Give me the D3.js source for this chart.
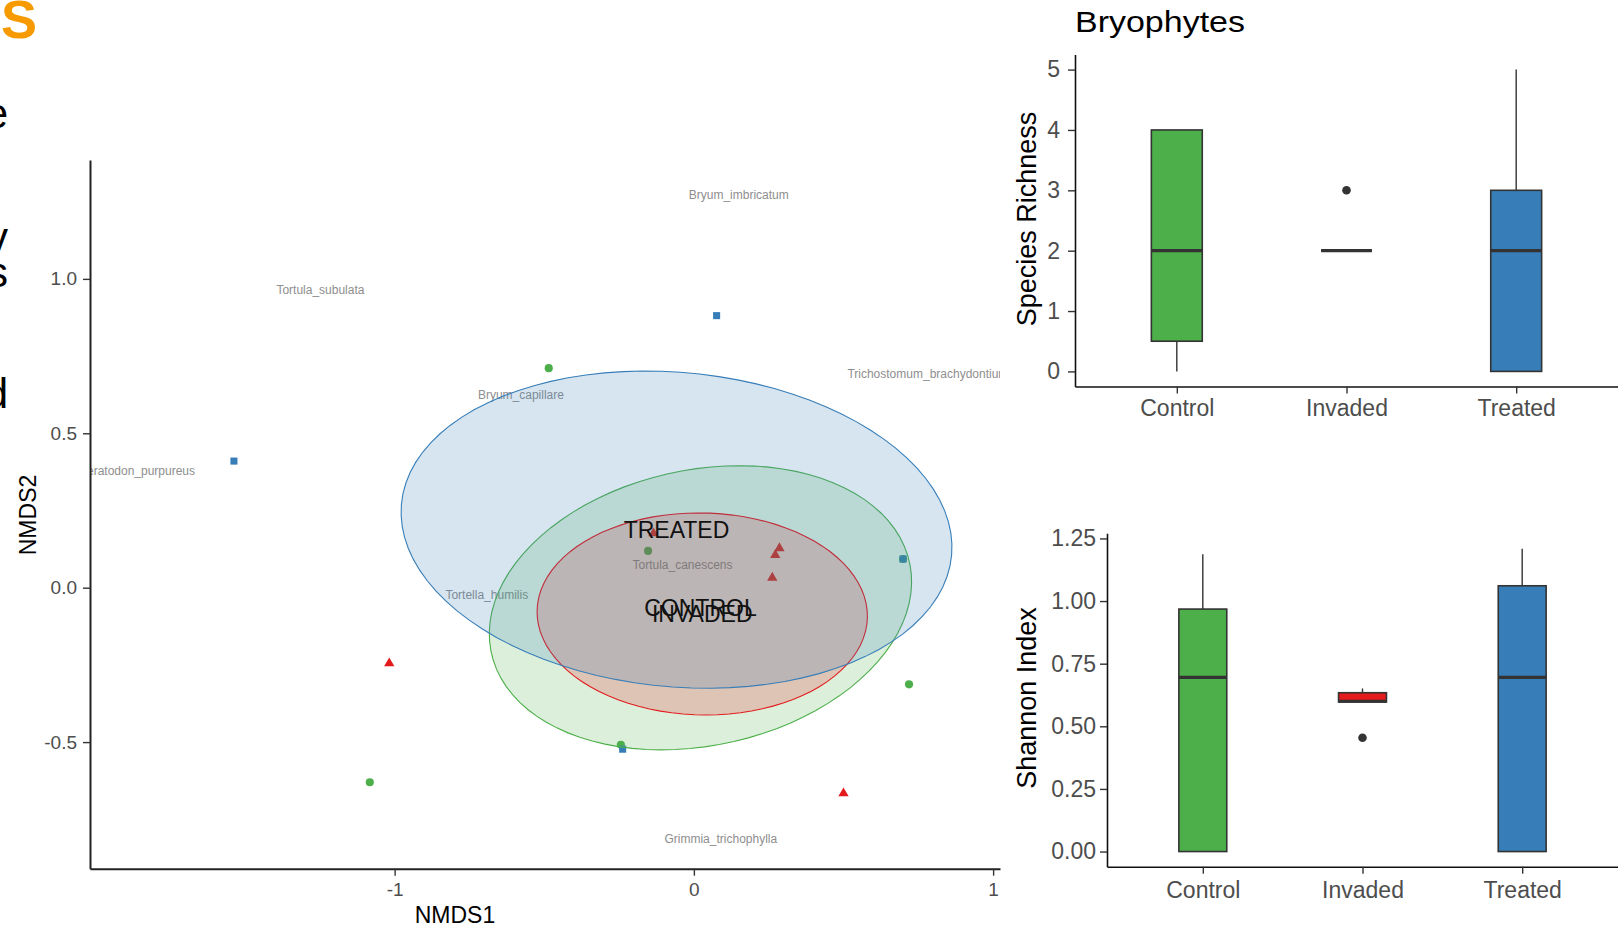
<!DOCTYPE html>
<html>
<head>
<meta charset="utf-8">
<script src="https://cdn.jsdelivr.net/npm/d3@7"></script>
<style>
  html, body { margin: 0; padding: 0; background: #fff; }
  svg { display: block; font-family: "Liberation Sans", Arial, sans-serif; }
</style>
</head>
<body>
<svg id="chart" width="1618" height="929"></svg>
<script>
// ---- groups ----
const groups = ['Control', 'Invaded', 'Treated'];
const groupLabels = ['CONTROL', 'INVADED', 'TREATED'];
const groupColors = ['#4DAF4A', '#E41A1C', '#377EB8'];

// ---- NMDS site scores ----
const siteGroup = ['Control', 'Control', 'Control', 'Control', 'Control', 'Control',
  'Invaded', 'Invaded', 'Invaded', 'Invaded', 'Invaded', 'Invaded',
  'Treated', 'Treated', 'Treated', 'Treated'];
const siteNMDS1 = [-0.485, -0.153, 0.719, -0.244, -1.083, 0.699,
  -1.018, 0.500, 0.286, 0.272, 0.262, -0.135,
  0.076, -1.537, -0.238, 0.699];
const siteNMDS2 = [0.711, 0.119, -0.313, -0.509, -0.630, 0.093,
  -0.245, -0.666, 0.128, 0.106, 0.032, 0.176,
  0.881, 0.410, -0.523, 0.093];

// ---- species scores ----
const speciesNames = ['Bryum_imbricatum', 'Tortula_subulata', 'Bryum_capillare',
  'Trichostomum_brachydontium', 'Ceratodon_purpureus', 'Tortula_canescens',
  'Tortella_humilis', 'Grimmia_trichophylla'];
const speciesNMDS1 = [0.150, -1.248, -0.578, 0.782, -1.862, -0.038, -0.692, 0.090];
const speciesNMDS2 = [1.271, 0.964, 0.626, 0.694, 0.378, 0.073, -0.024, -0.814];

// ---- group ellipses (centre, semi axes, angle in degrees) ----
const ellipseCentreX = [0.022, 0.028, -0.058];
const ellipseCentreY = [-0.065, -0.085, 0.188];
const ellipseSemiMajor = [0.714, 0.552, 0.923];
const ellipseSemiMinor = [0.447, 0.327, 0.509];
const ellipseAngle = [11.3, -1.1, -5.1];

// ---- species richness boxplot stats ----
const richLower = [0, 2, 0];
const richQ1 = [0.5, 2, 0];
const richMedian = [2, 2, 2];
const richQ3 = [4, 2, 3];
const richUpper = [4, 2, 5];
const richOutliers = [[], [3], []];
const richTicks = [0, 1, 2, 3, 4, 5];

// ---- shannon index boxplot stats ----
const shanLower = [0, 0.597, 0];
const shanQ1 = [0, 0.597, 0];
const shanMedian = [0.695, 0.600, 0.695];
const shanQ3 = [0.968, 0.634, 1.061];
const shanUpper = [1.187, 0.651, 1.209];
const shanOutliers = [[], [0.454], []];
const shanTicks = [0, 0.25, 0.5, 0.75, 1.0, 1.25];

const svg = d3.select('#chart');
const colorOf = d3.scaleOrdinal().domain(groups).range(groupColors);
const shapeOf = d3.scaleOrdinal().domain(groups)
  .range([d3.symbolCircle, d3.symbolTriangle, d3.symbolSquare]);
const sizeOf = d3.scaleOrdinal().domain(groups).range([52, 46, 50]);

// R 风格的负号（普通连字符）
const plainMinus = fmt => v => fmt(v).replace('\u2212', '-');

// leftover slide text at the left edge
svg.append('text')
  .attr('x', 1).attr('y', 38)
  .attr('font-size', 54).attr('font-weight', 'bold')
  .attr('fill', '#F79A00')
  .text('S');

[['e', 128], ['y', 252], ['s', 287], ['d', 408]].forEach(([ch, base]) => {
  svg.append('text')
    .attr('x', 8).attr('y', base)
    .attr('text-anchor', 'end')
    .attr('font-size', 42)
    .attr('fill', '#000')
    .text(ch);
});

// ================= NMDS plot =================
const nx = d3.scaleLinear().domain([-2.018, 1.023]).range([90, 1000]);
const ny = d3.scaleLinear().domain([-0.91, 1.385]).range([868.7, 160]);

svg.append('defs').append('clipPath').attr('id', 'nmds-clip')
  .append('rect')
  .attr('x', nx.range()[0]).attr('y', ny.range()[1])
  .attr('width', nx.range()[1] - nx.range()[0])
  .attr('height', ny.range()[0] - ny.range()[1]);

const panel = svg.append('g').attr('clip-path', 'url(#nmds-clip)');

// 物种标签
panel.selectAll('text.species')
  .data(speciesNames)
  .enter()
  .append('text')
  .attr('class', 'species')
  .attr('x', (d, i) => nx(speciesNMDS1[i]))
  .attr('y', (d, i) => ny(speciesNMDS2[i]))
  .attr('dy', '0.35em')
  .attr('text-anchor', 'middle')
  .attr('font-size', 12)
  .attr('fill', '#8e8e8e')
  .text(d => d);

// 样点
panel.selectAll('path.site')
  .data(siteGroup)
  .enter()
  .append('path')
  .attr('class', 'site')
  .attr('transform', (d, i) => `translate(${nx(siteNMDS1[i])},${ny(siteNMDS2[i])})`)
  .attr('d', d => d3.symbol().type(shapeOf(d)).size(sizeOf(d))())
  .attr('fill', d => colorOf(d));

// 置信椭圆
const ellipseLine = d3.line()
  .x(p => nx(p[0]))
  .y(p => ny(p[1]))
  .curve(d3.curveLinearClosed);

groups.forEach((g, i) => {
  const phi = ellipseAngle[i] * Math.PI / 180;
  const pts = d3.range(0, 360, 4).map(deg => {
    const t = deg * Math.PI / 180;
    const a = ellipseSemiMajor[i] * Math.cos(t);
    const b = ellipseSemiMinor[i] * Math.sin(t);
    return [
      ellipseCentreX[i] + a * Math.cos(phi) - b * Math.sin(phi),
      ellipseCentreY[i] + a * Math.sin(phi) + b * Math.cos(phi)
    ];
  });
  panel.append('path')
    .datum(pts)
    .attr('d', ellipseLine)
    .attr('fill', groupColors[i])
    .attr('fill-opacity', 0.2)
    .attr('stroke', groupColors[i])
    .attr('stroke-width', 1.1);
});

// 组名
panel.selectAll('text.group')
  .data(groupLabels)
  .enter()
  .append('text')
  .attr('class', 'group')
  .attr('x', (d, i) => nx(ellipseCentreX[i]))
  .attr('y', (d, i) => ny(ellipseCentreY[i]))
  .attr('dy', '0.35em')
  .attr('text-anchor', 'middle')
  .attr('font-size', 23)
  .attr('fill', '#111')
  .text(d => d);

function styleAxis(g, lineColor, lineWidth, fontSize) {
  g.select('.domain').attr('stroke', lineColor).attr('stroke-width', lineWidth);
  g.selectAll('.tick line').attr('stroke', '#333').attr('stroke-width', 1.4);
  g.selectAll('.tick text')
    .attr('fill', '#4D4D4D')
    .attr('font-size', fontSize)
    .attr('font-family', '"Liberation Sans", Arial, sans-serif');
}

svg.append('g')
  .attr('transform', `translate(0,${ny.range()[0]})`)
  .call(d3.axisBottom(nx).tickValues([-1, 0, 1]).tickFormat(plainMinus(d3.format('d')))
    .tickSize(7).tickPadding(7).tickSizeOuter(0))
  .call(g => styleAxis(g, '#222', 2, 19));

svg.append('g')
  .attr('transform', `translate(${nx.range()[0]},0)`)
  .call(d3.axisLeft(ny).tickValues([-0.5, 0, 0.5, 1.0]).tickFormat(plainMinus(d3.format('.1f')))
    .tickSize(7).tickPadding(6).tickSizeOuter(0))
  .call(g => styleAxis(g, '#222', 2, 19));

svg.append('text')
  .attr('x', 455).attr('y', 915).attr('dy', '0.35em')
  .attr('text-anchor', 'middle')
  .attr('font-size', 23)
  .text('NMDS1');

svg.append('text')
  .attr('transform', 'translate(27.5,515) rotate(-90)')
  .attr('dy', '0.35em')
  .attr('text-anchor', 'middle')
  .attr('font-size', 23)
  .text('NMDS2');

// ================= boxplots =================
function drawBoxplot(cfg) {
  const x = d3.scalePoint().domain(groups).range(cfg.xRange).padding(0.6);
  const y = d3.scaleLinear().domain(cfg.yDomain).range(cfg.yRange);
  const boxW = x.step() * 0.3;
  const g = svg.append('g');

  groups.forEach((grp, i) => {
    const cx = x(grp);
    // whiskers
    g.append('line')
      .attr('x1', cx).attr('x2', cx)
      .attr('y1', y(cfg.q3[i])).attr('y2', y(cfg.upper[i]))
      .attr('stroke', '#333').attr('stroke-width', 1.4);
    g.append('line')
      .attr('x1', cx).attr('x2', cx)
      .attr('y1', y(cfg.q1[i])).attr('y2', y(cfg.lower[i]))
      .attr('stroke', '#333').attr('stroke-width', 1.4);
    // box
    g.append('rect')
      .attr('x', cx - boxW / 2)
      .attr('width', boxW)
      .attr('y', y(cfg.q3[i]))
      .attr('height', y(cfg.q1[i]) - y(cfg.q3[i]))
      .attr('fill', colorOf(grp))
      .attr('stroke', '#333').attr('stroke-width', 1.6);
    // median
    g.append('line')
      .attr('x1', cx - boxW / 2).attr('x2', cx + boxW / 2)
      .attr('y1', y(cfg.median[i])).attr('y2', y(cfg.median[i]))
      .attr('stroke', '#333').attr('stroke-width', 3.2);
    // outliers
    cfg.outliers[i].forEach(v => {
      g.append('circle')
        .attr('cx', cx).attr('cy', y(v)).attr('r', 4.3)
        .attr('fill', '#333');
    });
  });

  svg.append('g')
    .attr('transform', `translate(0,${cfg.yRange[0]})`)
    .call(d3.axisBottom(x).tickSize(7).tickPadding(cfg.xPad).tickSizeOuter(0))
    .call(a => styleAxis(a, '#111', 1.6, 23));

  svg.append('g')
    .attr('transform', `translate(${cfg.xRange[0]},0)`)
    .call(d3.axisLeft(y).tickValues(cfg.ticks).tickFormat(cfg.format)
      .tickSize(7).tickPadding(cfg.yPad).tickSizeOuter(0))
    .call(a => styleAxis(a, '#111', 1.6, 23));

  svg.append('text')
    .attr('transform', `translate(1027,${cfg.titleY}) rotate(-90)`)
    .attr('dy', '0.35em')
    .attr('text-anchor', 'middle')
    .attr('font-size', 27)
    .text(cfg.yTitle);
}

drawBoxplot({
  xRange: [1075, 1618], yDomain: [-0.25, 5.25], yRange: [386.5, 54.5],
  lower: richLower, q1: richQ1, median: richMedian, q3: richQ3, upper: richUpper,
  outliers: richOutliers, ticks: richTicks, format: d3.format('d'),
  xPad: 6, yPad: 8, yTitle: 'Species Richness', titleY: 219
});

drawBoxplot({
  xRange: [1107, 1618], yDomain: [-0.0605, 1.2705], yRange: [866.7, 533.3],
  lower: shanLower, q1: shanQ1, median: shanMedian, q3: shanQ3, upper: shanUpper,
  outliers: shanOutliers, ticks: shanTicks, format: d3.format('.2f'),
  xPad: 8, yPad: 4, yTitle: 'Shannon Index', titleY: 698
});

svg.append('text')
  .attr('x', 1075).attr('y', 31.7)
  .attr('font-size', 30)
  .attr('textLength', 170)
  .attr('lengthAdjust', 'spacingAndGlyphs')
  .attr('fill', '#000')
  .text('Bryophytes');
</script>
</body>
</html>
